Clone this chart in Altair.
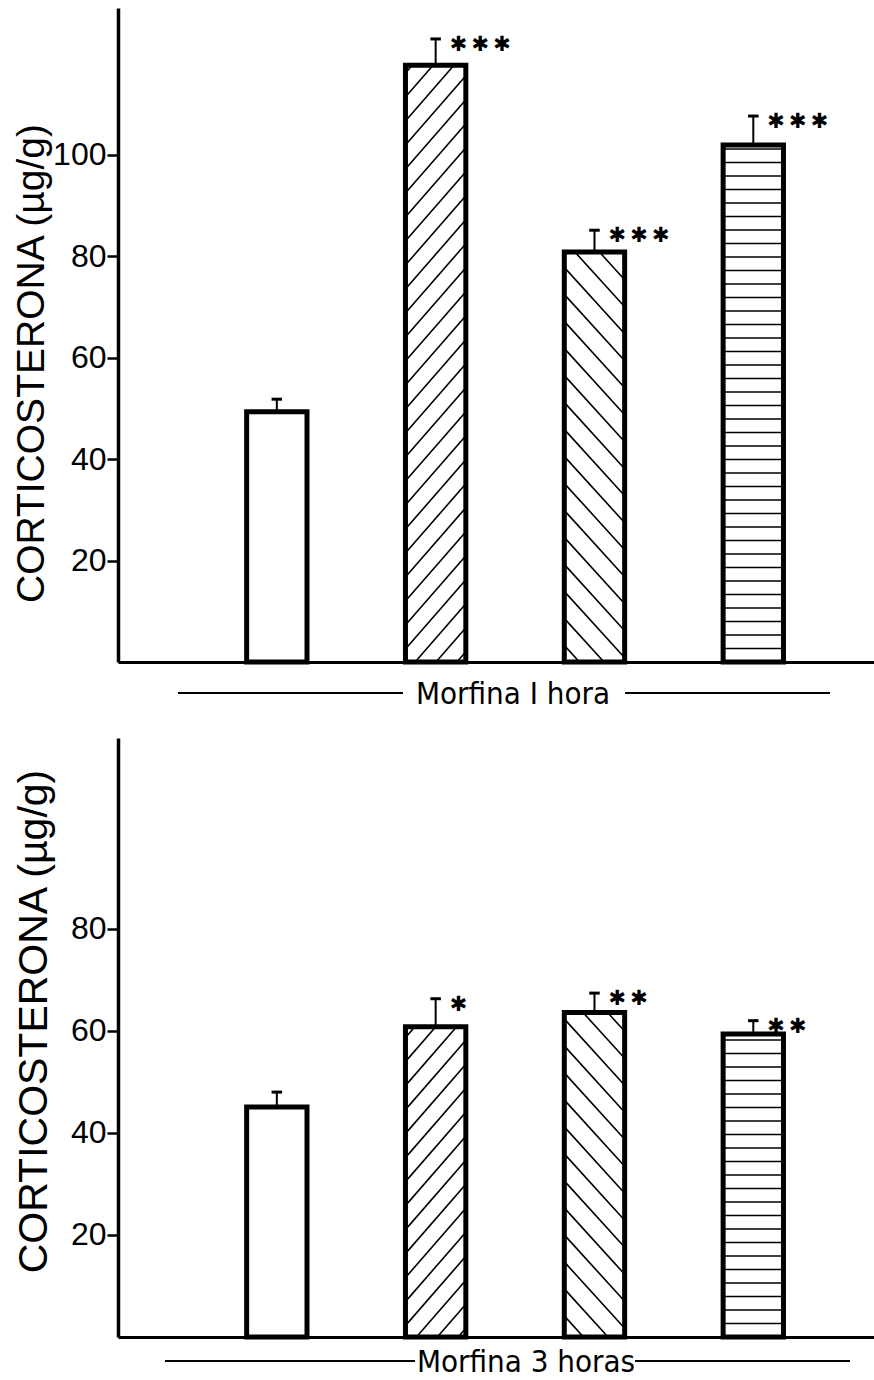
import altair as alt
import pandas as pd
import numpy as np

# ---------------- data ----------------
groups = [1, 2, 3, 4]
patterns = ["none", "slash", "backslash", "horizontal"]

mean_1h = [49.3, 117.6, 80.8, 101.9]
err_1h = [51.8, 122.8, 85.1, 107.6]
sig_1h = ["", "***", "***", "***"]

mean_3h = [45.1, 60.8, 63.6, 59.4]
err_3h = [48.0, 66.3, 67.4, 62.0]
sig_3h = ["", "*", "**", "**"]

ticks_1h = [20, 40, 60, 80, 100]
ticks_3h = [20, 40, 60, 80]

y_title = "CORTICOSTERONA (µg/g)"
label_1h = "Morfina I hora"
label_3h = "Morfina 3 horas"

# ---------------- layout constants ----------------
W = 756
H1, H2 = 654, 599
XMAX = 4.76
YMAX1, YMAX2 = 128.9, 117.4
HALF_W = 0.19          # half bar width (x units)
CAP = 0.033            # half cap width (x units)

FONT = "Liberation Sans"


def hatch_segments(xc, v, kind, ppx, ppy):
    """Hatch lines inside bar [xc-HALF_W, xc+HALF_W] x [0, v], spacing given in px."""
    Wp = 2 * HALF_W * ppx
    Hp = v * ppy
    segs = []
    if kind == "none":
        return segs
    if kind == "horizontal":
        for c in np.arange(13.5, Hp - 3, 13.5):
            segs.append((0.0, c, Wp, c))
    else:
        m, s = (1.15, 24.0) if kind == "slash" else (-1.1, 27.0)
        lo = -abs(m) * Wp - Hp
        for c in np.arange(lo + 7, Hp + abs(m) * Wp, s):
            if m > 0:
                x0, x1 = max(0.0, -c / m), min(Wp, (Hp - c) / m)
            else:
                x0, x1 = max(0.0, (Hp - c) / m), min(Wp, -c / m)
            if x1 - x0 > 2:
                segs.append((x0, m * x0 + c, x1, m * x1 + c))
    out = []
    for (a, b, c2, d) in segs:
        out.append({
            "hx": xc - HALF_W + a / ppx, "hy": b / ppy,
            "hx2": xc - HALF_W + c2 / ppx, "hy2": d / ppy,
        })
    return out


def panel(means, errs, sigs, ticks, H, ymax, label, title_x, title_y, title_size,
          line_y, text_x, left_line, right_line, anchor=False):
    df = pd.DataFrame({
        "g": groups,
        "pattern": patterns,
        "mean": means,
        "err": errs,
        "sig": ["\u2009".join("\u2731" * len(s)) for s in sigs],
    })
    ppx = W / XMAX
    ppy = H / ymax
    hatch_rows = []
    for g, m, p in zip(groups, means, patterns):
        hatch_rows += hatch_segments(g, m, p, ppx, ppy)
    hdf = pd.DataFrame(hatch_rows)

    xs = alt.Scale(domain=[0, XMAX], nice=False, zero=False)
    ys = alt.Scale(domain=[0, ymax], nice=False, zero=True)

    base = alt.Chart(df).transform_calculate(
        xl=f"datum.g - {HALF_W}", xr=f"datum.g + {HALF_W}",
        cl=f"datum.g - {CAP}", cr=f"datum.g + {CAP}",
    )

    fill = base.mark_bar(color="white", strokeWidth=0).encode(
        x=alt.X("xl:Q", scale=xs,
                axis=alt.Axis(labels=False, ticks=False, title=None, grid=False,
                              domainColor="black", domainWidth=3.2)),
        x2="xr:Q",
        y=alt.Y("mean:Q", scale=ys,
                axis=alt.Axis(values=ticks, grid=False, tickSize=11, tickWidth=2.5,
                              tickColor="black", domainColor="black", domainWidth=3.5,
                              labelFont=FONT, labelFontSize=32, labelColor="black",
                              labelPadding=1, title=y_title, titleFont=FONT,
                              titleFontSize=title_size, titleFontWeight="normal",
                              titleColor="black", titleAngle=270, titleAlign="center",
                              titleBaseline="alphabetic", titleX=title_x, titleY=title_y)),
        y2=alt.datum(0),
    )

    hatch = alt.Chart(hdf).mark_rule(color="black", strokeWidth=1.6).encode(
        x=alt.X("hx:Q", scale=xs), x2="hx2:Q",
        y=alt.Y("hy:Q", scale=ys), y2="hy2:Q",
    )

    outline = base.mark_bar(fillOpacity=0, stroke="black", strokeWidth=5,
                            strokeJoin="miter").encode(
        x=alt.X("xl:Q", scale=xs), x2="xr:Q",
        y=alt.Y("mean:Q", scale=ys), y2=alt.datum(0),
    )

    stem = base.mark_rule(color="black", strokeWidth=2).encode(
        x=alt.X("g:Q", scale=xs),
        y=alt.Y("mean:Q", scale=ys), y2="err:Q",
    )
    cap = base.mark_rule(color="black", strokeWidth=3).encode(
        x=alt.X("cl:Q", scale=xs), x2="cr:Q",
        y=alt.Y("err:Q", scale=ys),
    )
    stars = base.mark_text(align="left", baseline="middle", dx=14, dy=6,
                           font="DejaVu Sans", fontSize=21, color="black").encode(
        x=alt.X("g:Q", scale=xs),
        y=alt.Y("err:Q", scale=ys),
        text="sig:N",
    )

    deco = pd.DataFrame({"label": [label]})
    line_l = alt.Chart(deco).mark_rule(color="black", strokeWidth=2).encode(
        x=alt.value(left_line[0]), x2=alt.value(left_line[1]), y=alt.value(line_y))
    line_r = alt.Chart(deco).mark_rule(color="black", strokeWidth=2).encode(
        x=alt.value(right_line[0]), x2=alt.value(right_line[1]), y=alt.value(line_y))
    txt = alt.Chart(deco).mark_text(font="'DejaVu Sans Condensed', 'Liberation Sans'",
                                    fontSize=31, baseline="middle", align="center",
                                    color="black").encode(
        x=alt.value(text_x), y=alt.value(line_y + 2), text="label:N")

    layers = [fill, hatch, outline, stem, cap, stars, line_l, line_r, txt]
    if anchor:
        anc = alt.Chart(deco).mark_rule(stroke="white", strokeOpacity=0).encode(
            x=alt.value(-118), x2=alt.value(-117), y=alt.value(-8))
        layers.append(anc)
    return alt.layer(*layers).properties(width=W, height=H)


top = panel(mean_1h, err_1h, sig_1h, ticks_1h, H1, YMAX1, label_1h,
            title_x=-75, title_y=355, title_size=39,
            line_y=31 + H1, text_x=395, left_line=(60, 285), right_line=(507, 712),
            anchor=True)
bottom = panel(mean_3h, err_3h, sig_3h, ticks_3h, H2, YMAX2, label_3h,
               title_x=-72, title_y=283, title_size=41,
               line_y=24 + H2, text_x=408, left_line=(47, 297), right_line=(517, 732))

chart = alt.vconcat(top, bottom, spacing=76, bounds="flush").properties(
    padding={"left": 0, "top": 0, "right": 0, "bottom": 0},
    background="white",
).configure_view(strokeWidth=0)

chart.save("out.html", embed_options={"renderer": "svg", "actions": False})
